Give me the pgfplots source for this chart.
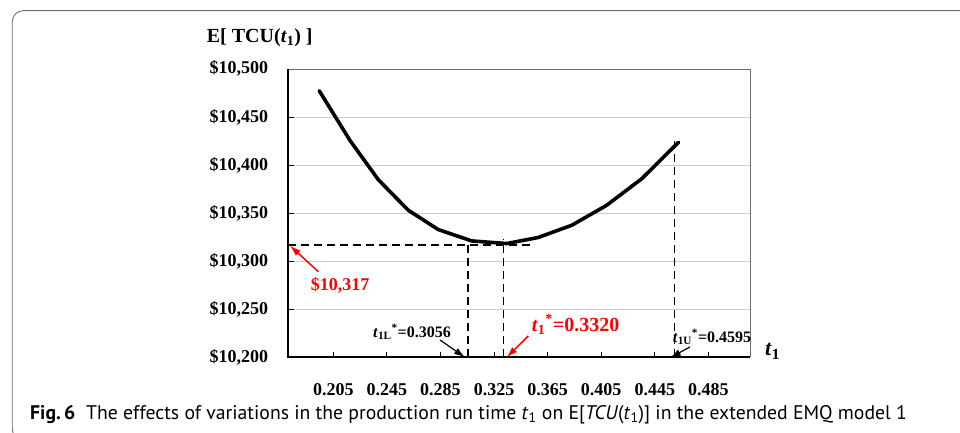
\documentclass[border=0pt]{standalone}
\usepackage{pgfplots}
\pgfplotsset{compat=1.18}
\usepackage{graphicx}
\usepackage{fontspec}
\setmainfont{Liberation Serif}
\newfontfamily\capfont{PT Sans}
\usetikzlibrary{arrows.meta}
\newcommand\px[2]{({(#1)*1pt-288.3pt},{357.5pt-(#2)*1pt})}
\newcommand\fs[1]{\fontsize{#1}{#1}\selectfont}
\definecolor{gridgray}{RGB}{205,205,205}
\definecolor{framegray}{RGB}{110,110,110}
\begin{document}
\begin{tikzpicture}
\useasboundingbox \px{0}{433} rectangle \px{960}{0};
\begin{axis}[
  scale only axis, width=461.7pt, height=288.5pt,
  xmin=0.1714, xmax=0.5161, ymin=10200, ymax=10500,
  axis line style={draw=none},
  clip=false,
  scaled y ticks=false, scaled x ticks=false,
  xtick={0.205,0.245,0.285,0.325,0.365,0.405,0.445,0.485},
  xticklabels={0.205,0.245,0.285,0.325,0.365,0.405,0.445,0.485},
  ytick={10200,10250,10300,10350,10400,10450,10500},
  yticklabels={{\$10,200},{\$10,250},{\$10,300},{\$10,350},{\$10,400},{\$10,450},{\$10,500}},
  xtick pos=left, ytick pos=left,
  tick align=inside, major tick length=6pt,
  tick style={black, line width=0.8pt},
  ymajorgrids, major grid style={draw=gridgray, line width=0.9pt},
  xticklabel style={font=\bfseries\fs{18}, anchor=base, yshift=-37.5pt, inner sep=0pt},
  yticklabel style={font=\bfseries\fs{18}, anchor=base east, xshift=-20pt, yshift=-5pt, inner sep=0pt},
]
\draw[framegray, line width=0.8pt] (rel axis cs:0,1) -- (rel axis cs:1,1) -- (rel axis cs:1,0);
\addplot[black, line width=1.3pt, dash pattern=on 8pt off 5pt] coordinates {(0.1714,10317) (0.352,10317)};
\addplot[black, line width=1.3pt, dash pattern=on 8pt off 5pt] coordinates {(0.3056,10200) (0.3056,10320)};
\addplot[black, line width=1.3pt, dash pattern=on 8pt off 5pt] coordinates {(0.3320,10200) (0.3320,10323)};
\addplot[black, line width=1.3pt, dash pattern=on 8pt off 5pt] coordinates {(0.4595,10200) (0.4595,10425)};
\addplot[black, line width=3.6pt, line join=round, line cap=round] coordinates {
(0.1945,10477.4)
(0.2175,10425.6)
(0.2386,10384.9)
(0.2610,10353.1)
(0.2834,10333.0)
(0.3084,10321.2)
(0.3345,10318.5)
(0.3580,10324.8)
(0.3830,10337.5)
(0.4090,10358.2)
(0.4353,10385.9)
(0.4627,10423.8)
};
\draw[black, line width=2pt] (rel axis cs:0,1) -- (rel axis cs:0,0) -- (rel axis cs:1,0);
\end{axis}
% frame
\begin{scope}
\clip \px{0}{433} rectangle \px{960}{0};
\draw[framegray, line width=0.9pt, rounded corners=11pt] \px{960}{10.7} -- \px{12.3}{10.7} -- \px{12.3}{440} -- \px{960}{440};
\end{scope}
% titles
\node[anchor=base west, inner sep=0pt] at \px{206.7}{42.7} {\bfseries\fs{20}E[ TCU(\textit{t}\textsubscript{1}) ]};
\node[anchor=base west, inner sep=0pt] at \px{765}{356} {\bfseries\fs{22}\textit{t}\textsubscript{1}};
% annotations
\draw[red, line width=1.5pt, -{Latex[length=11pt,width=7pt]}] \px{318.3}{271.7} -- \px{290}{245.7};
\node[anchor=center, inner sep=0pt, text=red] at \px{340}{285} {\bfseries\fs{18}\$10,317};
\node[anchor=base west, inner sep=0pt] at \px{373}{337.3} {\bfseries\fs{16}\textit{t}\textsubscript{1L}\textsuperscript{*}=0.3056};
\draw[black, line width=1.2pt, -{Latex[length=11pt,width=7pt]}] \px{440}{340} -- \px{465}{357.3};
\node[anchor=base west, inner sep=0pt, text=red] at \px{531.7}{331.5} {\bfseries\fs{20}\textit{t}\textsubscript{1}\textsuperscript{*}=0.3320};
\draw[red, line width=1.5pt, -{Latex[length=11pt,width=7pt]}] \px{528.3}{336} -- \px{506.7}{357.3};
\node[anchor=base west, inner sep=0pt] at \px{672.7}{342.3} {\bfseries\fs{16}\textit{t}\textsubscript{1U}\textsuperscript{*}=0.4595};
\draw[black, line width=1.2pt, -{Latex[length=10pt,width=7pt]}] \px{690}{347} -- \px{670.7}{357.3};
% caption
\node[anchor=base west, inner sep=0pt] at \px{30}{419.3} {\resizebox{876.7pt}{!}{\capfont\fs{17}{\bfseries Fig.\,6}\hspace{0.55em}The effects of variations in the production run time \textit{t}\textsubscript{1} on E[\textit{TCU}(\textit{t}\textsubscript{1})] in the extended EMQ model 1}};
\end{tikzpicture}
\end{document}
